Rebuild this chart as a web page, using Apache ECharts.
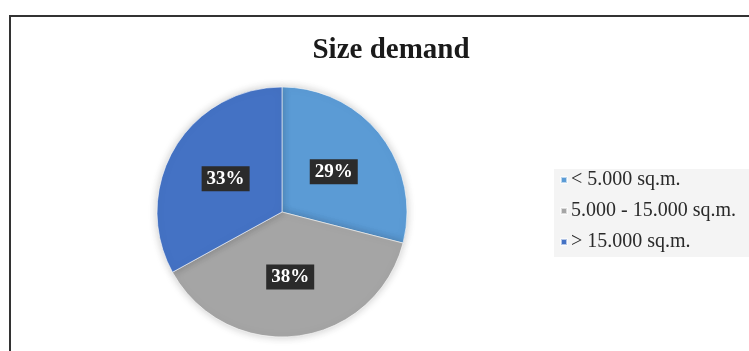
<!DOCTYPE html>
<html>
<head>
<meta charset="utf-8">
<style>
  html, body { margin: 0; padding: 0; background: #ffffff; }
  #chart { width: 749px; height: 351px; }
</style>
<script src="https://cdn.jsdelivr.net/npm/echarts@6/dist/echarts.min.js"></script>
</head>
<body>
<div id="chart"></div>
<script>
// Share of requested warehouse sizes
const categories = ['< 5.000 sq.m.', '5.000 - 15.000 sq.m.', '> 15.000 sq.m.'];
const shares = [29, 38, 33];
const colors = ['#5b9bd5', '#a5a5a5', '#4472c4'];

const chart = echarts.init(document.getElementById('chart'), null, { renderer: 'canvas' });

const serif = '"Liberation Serif", "DejaVu Serif", serif';

chart.setOption({
  backgroundColor: '#ffffff',
  animation: false,
  color: colors,
  graphic: [
    {
      // frame around the chart area
      type: 'polyline',
      shape: { points: [[10, 360], [10, 16], [760, 16]] },
      style: { stroke: '#333333', lineWidth: 2, fill: null },
      silent: true
    }
  ],
  title: {
    text: 'Size demand',
    left: 386,
    top: 31,
    textAlign: 'center',
    textStyle: {
      fontFamily: serif,
      fontWeight: 'bold',
      fontSize: 29,
      color: '#1a1a1a'
    }
  },
  legend: {
    orient: 'vertical',
    left: 554,
    top: 169,
    itemWidth: 6,
    itemHeight: 6,
    itemGap: 11,
    padding: [1, 20, 5, 6],
    backgroundColor: '#f4f4f4',
    icon: 'rect',
    data: categories,
    textStyle: {
      fontFamily: serif,
      fontSize: 20,
      lineHeight: 20,
      color: '#2a2a2a',
      padding: [0, 0, 0, -1]
    }
  },
  series: [
    {
      type: 'pie',
      center: [282, 212],
      radius: [0, 125],
      startAngle: 90,
      clockwise: true,
      avoidLabelOverlap: false,
      itemStyle: {
        borderColor: 'rgba(255,255,255,0.6)',
        borderWidth: 1,
        shadowBlur: 8,
        shadowColor: 'rgba(0,0,0,0.22)'
      },
      label: {
        show: true,
        position: 'inside',
        formatter: '{c}%',
        fontFamily: serif,
        fontWeight: 'bold',
        fontSize: 19,
        color: '#ffffff',
        backgroundColor: '#2b2b2b',
        padding: [4, 5, 2, 5]
      },
      labelLine: { show: false },
      emphasis: { disabled: true },
      data: categories.map((name, i) => ({ name: name, value: shares[i] }))
    }
  ]
});
</script>
</body>
</html>
